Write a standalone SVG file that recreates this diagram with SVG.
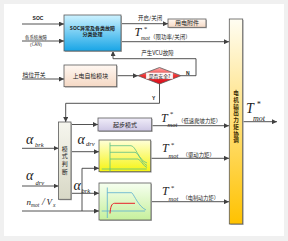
<svg xmlns="http://www.w3.org/2000/svg" width="288" height="241" viewBox="0 0 288 241">
<defs>
<linearGradient id="gBlue" x1="0" y1="0" x2="0" y2="1"><stop offset="0" stop-color="#cdf2ff"/><stop offset="1" stop-color="#18a5e6"/></linearGradient>
<linearGradient id="gPeach" x1="0" y1="0" x2="0" y2="1"><stop offset="0" stop-color="#fff8f2"/><stop offset="1" stop-color="#f5d8c4"/></linearGradient>
<linearGradient id="gRed" x1="0" y1="0" x2="0" y2="1"><stop offset="0" stop-color="#ffb0b0"/><stop offset="0.5" stop-color="#f03030"/><stop offset="1" stop-color="#d80818"/></linearGradient>
<linearGradient id="gLav" x1="0" y1="0" x2="0" y2="1"><stop offset="0" stop-color="#f0edf9"/><stop offset="1" stop-color="#cdc6e4"/></linearGradient>
<linearGradient id="gMode" x1="0" y1="0" x2="0" y2="1"><stop offset="0" stop-color="#f6f6ee"/><stop offset="1" stop-color="#d8d8c6"/></linearGradient>
<linearGradient id="gBig" x1="0" y1="0" x2="0" y2="1"><stop offset="0" stop-color="#fffdf2"/><stop offset="1" stop-color="#ffc200"/></linearGradient>
<linearGradient id="gYel" x1="0" y1="0" x2="0" y2="1"><stop offset="0" stop-color="#ffffd8"/><stop offset="1" stop-color="#f6f410"/></linearGradient>
<linearGradient id="gGrn" x1="0" y1="0" x2="0" y2="1"><stop offset="0" stop-color="#f6fff0"/><stop offset="1" stop-color="#c6f09c"/></linearGradient>
<marker id="arr" viewBox="0 0 10 10" refX="10" refY="5" markerWidth="5" markerHeight="5" orient="auto" markerUnits="userSpaceOnUse"><path d="M0,0 L10,5 L0,10 z" fill="#404040"/></marker>
</defs>
<style>
.box{stroke:#5a5a5a;stroke-width:0.8}
.sh{fill:#b8b8b8}
.cn{fill:none;stroke:#404040;stroke-width:0.9;marker-end:url(#arr)}
.cj{font-family:"Noto Sans CJK SC","Noto Sans",sans-serif;fill:#222}
.m{font-family:"Liberation Serif",serif;font-style:italic;fill:#222}
.lat{font-family:"Liberation Sans",sans-serif;font-weight:bold;fill:#222}
.vm{font-family:"Noto Sans CJK SC",sans-serif;fill:#222;font-size:6px;text-anchor:middle}
.vb{font-family:"Noto Sans CJK SC",sans-serif;fill:#3a2a00;font-size:5.6px;font-weight:bold;text-anchor:middle}
</style>
<rect x="0" y="0" width="288" height="241" fill="#f0f0f0"/>
<rect x="4" y="4" width="280" height="232" fill="#ffffff"/>

<g id="connectors">
<path class="cn" d="M22,24 H64"/>
<path class="cn" d="M22,41 H64"/>
<path class="cn" d="M22,79 H64"/>
<path class="cn" d="M121,23.7 H168"/>
<path class="cn" d="M121,41.7 H229"/>
<path class="cn" d="M117,75.7 H138"/>
<path class="cn" d="M181,75.7 H196 V58.7 H113 V51"/>
<path class="cn" d="M159.5,84 V103.3 H65.7 V122"/>
<path class="cn" d="M22,148.3 H58.5"/>
<path class="cn" d="M22,186 H58.5"/>
<path class="cn" d="M22,211 H99"/>
<path class="cn" d="M82,211 V168.3 H99"/>
<path class="cn" d="M71,124.5 H98"/>
<path class="cn" d="M71,151.7 H99"/>
<path class="cn" d="M71,193.3 H99"/>
<path class="cn" d="M152,125.7 H229"/>
<path class="cn" d="M151,158.3 H229"/>
<path class="cn" d="M152,201.7 H229"/>
<path class="cn" d="M243,121.7 H277"/>
</g>

<g id="labels">
<text class="lat" x="38" y="19.8" font-size="5" text-anchor="middle">SOC</text>
<text class="cj" x="36" y="38.5" font-size="4.4" text-anchor="middle">各系统故障</text>
<text class="cj" x="36" y="45.5" font-size="4.4" text-anchor="middle">（CAN）</text>
<text class="cj" x="34" y="77" font-size="5.8" text-anchor="middle">档位开关</text>
<text class="cj" x="138" y="20" font-size="5.5">开启/关闭</text>
<text class="m" x="134.5" y="35.5" font-size="12">T</text>
<text class="m" x="143.5" y="30.5" font-size="7">*</text>
<text class="m" x="141" y="39.8" font-size="6">mot</text>
<text class="cj" x="150" y="39" font-size="5.5">（限功率/关闭）</text>
<text class="cj" x="157.5" y="55" font-size="5.5" text-anchor="middle">产生VCU故障</text>
<text class="lat" x="186" y="74.5" font-size="5">N</text>
<text class="lat" x="152" y="99.5" font-size="5">Y</text>
<text class="m" x="161" y="121.5" font-size="12">T</text>
<text class="m" x="169.5" y="116" font-size="7">*</text>
<text class="m" x="167.5" y="126.5" font-size="6.5">mot</text>
<text class="cj" x="178" y="123" font-size="5.4">（低速爬坡力矩）</text>
<text class="m" x="162" y="152" font-size="12">T</text>
<text class="m" x="170.5" y="146.5" font-size="7">*</text>
<text class="m" x="168.5" y="157.5" font-size="6.5">mot</text>
<text class="cj" x="182.5" y="156.5" font-size="5.4">（驱动力矩）</text>
<text class="m" x="162" y="195" font-size="12">T</text>
<text class="m" x="170.5" y="189.5" font-size="7">*</text>
<text class="m" x="168.5" y="200.5" font-size="6.5">mot</text>
<text class="cj" x="182.5" y="199.5" font-size="5.2">（电制动力矩）</text>
<text class="m" x="246" y="112.5" font-size="14">T</text>
<text class="m" x="256.5" y="106.5" font-size="8">*</text>
<text class="m" x="253" y="120.5" font-size="8">mot</text>
<text class="m" x="26" y="144" font-size="14">α</text>
<text class="m" x="35" y="146.5" font-size="6.5">brk</text>
<text class="m" x="26" y="180" font-size="14">α</text>
<text class="m" x="35.5" y="185" font-size="6.5">drv</text>
<text class="m" x="26.5" y="205" font-size="9">n</text>
<text class="m" x="31" y="206.5" font-size="5.5">mot</text>
<text class="m" x="42" y="205" font-size="10">/</text>
<text class="m" x="46.5" y="204.5" font-size="9">V</text>
<text class="m" x="53" y="207" font-size="5.5">x</text>
<text class="m" x="77.5" y="143.5" font-size="14">α</text>
<text class="m" x="86" y="145.5" font-size="6.5">drv</text>
<text class="m" x="73.5" y="190" font-size="14">α</text>
<text class="m" x="81.5" y="192.5" font-size="6.5">brk</text>
</g>

<g id="soc">
<rect class="sh" x="65" y="16" width="57" height="36"/>
<rect class="box" x="64" y="15" width="57" height="36" fill="url(#gBlue)"/>
<text class="cj" x="92.5" y="29.8" font-size="5" font-weight="bold" text-anchor="middle" fill="#1a1a50">SOC异常及各类故障</text>
<text class="cj" x="92.5" y="36.3" font-size="5" font-weight="bold" text-anchor="middle" fill="#1a1a50">分类处理</text>
</g>

<g id="accessory">
<rect class="sh" x="169" y="20" width="38" height="8.3"/>
<rect class="box" x="168" y="19" width="38" height="8.3" fill="url(#gPeach)"/>
<text class="cj" x="187" y="25.3" font-size="6" text-anchor="middle" fill="#5a1a1a">用电附件</text>
</g>

<g id="selfcheck">
<rect class="sh" x="65" y="66" width="52.7" height="21.7"/>
<rect class="box" x="64" y="65" width="52.7" height="21.7" fill="url(#gPeach)"/>
<text class="cj" x="90.4" y="77.8" font-size="5.9" text-anchor="middle">上电自检模块</text>
</g>

<g id="safe">
<polygon class="box" points="138,75.7 159.5,67.5 181,75.7 159.5,84" fill="url(#gRed)"/>
<rect x="146" y="72.6" width="27" height="6.4" fill="#fff4f4" stroke="#c08080" stroke-width="0.3"/>
<text class="cj" x="159.5" y="77.6" font-size="4.8" text-anchor="middle">是否安全?</text>
</g>

<g id="mode">
<rect class="sh" x="59.5" y="123" width="12.5" height="77.3"/>
<rect class="box" x="58.5" y="122" width="12.5" height="77.3" fill="url(#gMode)"/>
<text class="vm" x="64.8" y="150.5">模</text>
<text class="vm" x="64.8" y="158.3">式</text>
<text class="vm" x="64.8" y="166.1">判</text>
<text class="vm" x="64.8" y="173.9">断</text>
</g>

<g id="start">
<rect class="sh" x="99" y="119" width="53.7" height="13"/>
<rect class="box" x="98" y="118" width="53.7" height="13" fill="url(#gLav)"/>
<text class="cj" x="125" y="126.8" font-size="6" text-anchor="middle">起步模式</text>
</g>

<g id="drivechart">
<rect class="sh" x="100" y="141" width="51.7" height="31.7"/>
<rect class="box" x="99" y="140" width="51.7" height="31.7" fill="url(#gYel)"/>
<g fill="none" stroke="#5cbf86" stroke-width="0.8">
<path d="M110,142.5 V171.5"/>
<path d="M101.7,169 H146.7"/>
<path d="M110,145.7 H131 C136,146 138,160 147,163"/>
<path d="M110,152.3 H135 C139,153 141,163 147,165.5"/>
<path d="M110,159 H138 C141,160 143,166 147,167.5"/>
</g>
</g>

<g id="brakechart">
<rect class="sh" x="100" y="184" width="52" height="37"/>
<rect class="box" x="99" y="183" width="52" height="37" fill="url(#gGrn)"/>
<g fill="none" stroke-width="0.8">
<path d="M107.3,187.5 V218" stroke="#5aaed0"/>
<path d="M101.7,211 H145" stroke="#5aaed0"/>
<path d="M107.3,192.7 H131.7 C135,196 138,206 146,210" stroke="#5aaed0"/>
<path d="M110,213.5 C110.5,207 111.5,203.5 114.5,203.3 H135" stroke="#e8202a" stroke-width="1"/>
</g>
</g>

<g id="coord">
<rect class="sh" x="230.3" y="20" width="13.4" height="205"/>
<rect class="box" x="229.3" y="19" width="13.4" height="205" fill="url(#gBig)"/>
<text class="vb" x="236" y="95.3">电</text>
<text class="vb" x="236" y="102">机</text>
<text class="vb" x="236" y="108.7">输</text>
<text class="vb" x="236" y="115.4">出</text>
<text class="vb" x="236" y="122.1">力</text>
<text class="vb" x="236" y="128.8">矩</text>
<text class="vb" x="236" y="135.5">协</text>
<text class="vb" x="236" y="142.2">调</text>
</g>
</svg>
